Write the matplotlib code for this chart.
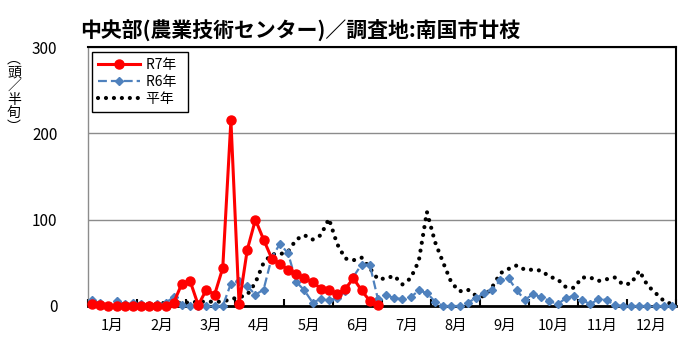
import numpy as np
import matplotlib
matplotlib.use('Agg')
import matplotlib.pyplot as plt
from matplotlib.lines import Line2D

plt.rcParams['font.family'] = ['Noto Sans CJK JP', 'DejaVu Sans']

# 半旬ごとの誘殺数（1年 = 72半旬）
months = [f'{m}月' for m in range(1, 13)]

r7 = [2, 1, 0, 0, 0, 0,
      0, 0, 0, 0, 4, 26,
      29, 1, 19, 13, 44, 215,
      2, 65, 100, 77, 55, 49,
      42, 37, 32, 28, 20, 18,
      14, 20, 32, 18, 6, 1] + [None] * 36

r6 = [7, 3, 0, 6, 2, 3,
      2, 1, 2, 4, 10, 1,
      0, 0, 0, 0, 0, 26,
      29, 23, 13, 19, 56, 72,
      61, 28, 18, 4, 8, 7,
      9, 17, 34, 48, 48, 8,
      13, 9, 8, 10, 18, 15,
      5, 0, 0, 0, 4, 9,
      15, 19, 30, 32, 18, 7,
      14, 10, 6, 2, 9, 12,
      7, 2, 8, 7, 1, 0,
      0, 0, 0, 0, 0, 0]

heinen = [5, 4, 2, 1, 1, 1,
          1, 2, 2, 4, 3, 4,
          4, 5, 5, 5, 5, 8,
          10, 13, 27, 50, 60, 60,
          63, 77, 82, 77, 82, 101,
          72, 55, 53, 56, 44, 31,
          32, 35, 25, 32, 52, 109,
          74, 50, 27, 17, 19, 12,
          11, 22, 38, 43, 47, 42,
          42, 41, 34, 31, 22, 21,
          33, 33, 29, 31, 33, 25,
          26, 41, 24, 15, 6, 2]

x = np.arange(len(r6))
r7_y = np.array([np.nan if v is None else v for v in r7], dtype=float)

fig = plt.figure(figsize=(7, 3.55), dpi=100)
ax = fig.add_axes([88 / 700, 1 - 306 / 355, (676 - 88) / 700, (306 - 47) / 355])

ax.plot(x, heinen, color='black', lw=3, linestyle=(0, (0.01, 1.9)),
        dash_capstyle='round', zorder=2)
ax.plot(x, r6, color='#4F81BD', lw=1.6, linestyle=(0, (4, 1.8)),
        marker='D', ms=4, zorder=3, clip_on=False)
ax.plot(x, r7_y, color='#FF0000', lw=2.2, marker='o', ms=6.5,
        zorder=4, clip_on=False)

ax.set_xlim(-0.5, 71.5)
ax.set_ylim(0, 300)
ax.set_yticks([0, 100, 200, 300])
ax.tick_params(axis='y', length=0, pad=22, labelsize=11)
ax.yaxis.grid(True, color='#8c8c8c', lw=1)
ax.set_axisbelow(True)

ax.set_xticks(np.arange(-0.5, 72, 6))
ax.set_xticklabels([])
ax.tick_params(axis='x', which='major', direction='in', length=5, width=1.5)
ax.set_xticks(np.arange(2.5, 72, 6), minor=True)
ax.set_xticklabels(months, minor=True)
ax.tick_params(axis='x', which='minor', length=0, pad=9, labelsize=10.5)

ax.spines['left'].set_color('#8c8c8c')
ax.spines['left'].set_linewidth(1)
ax.spines['top'].set_linewidth(1.5)
ax.spines['right'].set_linewidth(1.5)
ax.spines['bottom'].set_linewidth(2)

handles = [
    Line2D([], [], color='#FF0000', lw=2.2, marker='o', ms=6.5),
    Line2D([], [], color='#4F81BD', lw=1.6, linestyle=(0, (4, 1.8)), marker='D', ms=4),
    Line2D([], [], color='black', lw=3, linestyle=(0, (0.01, 1.9)), dash_capstyle='round'),
]
leg = ax.legend(handles, ['R7年  ', 'R6年  ', '平年  '], loc='upper left',
                bbox_to_anchor=(0.007, 0.981), borderaxespad=0, fontsize=10,
                handlelength=3.0, handletextpad=0.4, labelspacing=0.2,
                borderpad=0.45, fancybox=False, edgecolor='black', framealpha=1)
leg.get_frame().set_linewidth(1)

fig.text(80 / 700, 1 - 30 / 355, '中央部(農業技術センター)／調査地:南国市廿枝',
         fontsize=15, fontweight='bold', va='center', ha='left')
fig.text(14 / 700, 1 - 93 / 355, '\n'.join('︵頭／半旬︶'), fontsize=10,
         ha='center', va='center', linespacing=0.95)

fig.savefig('out.png', dpi=100)
